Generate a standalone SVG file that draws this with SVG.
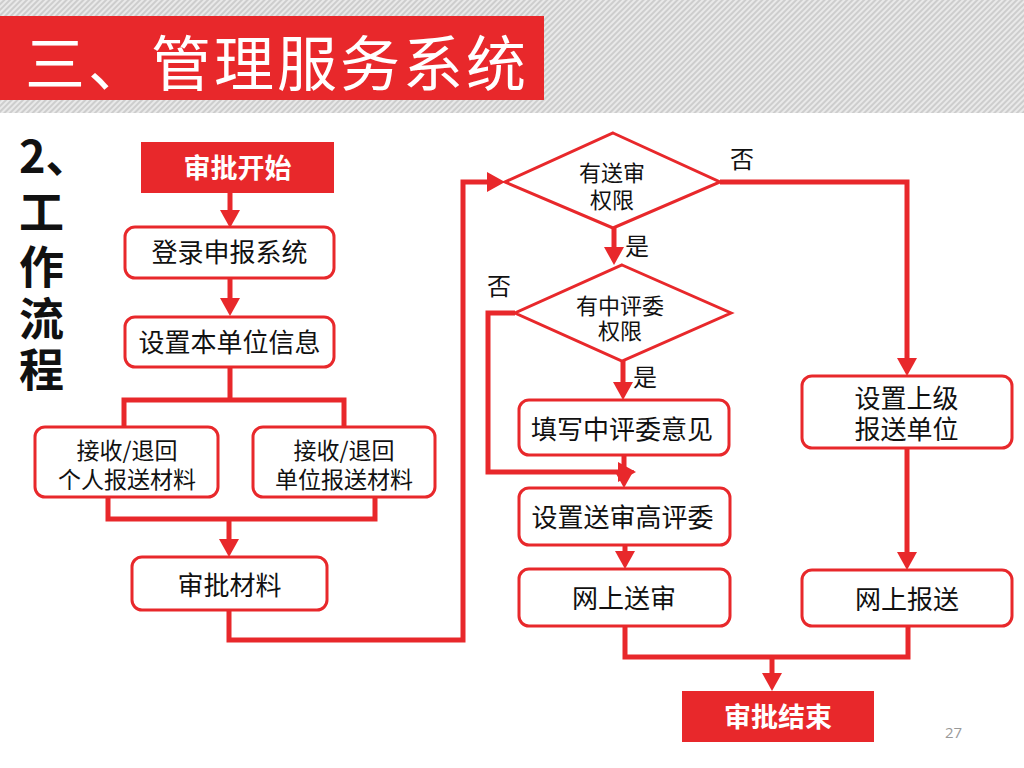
<svg xmlns="http://www.w3.org/2000/svg" width="1024" height="768" viewBox="0 0 1024 768">
<defs>
<pattern id="hatch" width="4" height="4" patternUnits="userSpaceOnUse" patternTransform="rotate(45)">
<rect width="4" height="4" fill="#cdcdcd"/>
<rect width="2" height="4" fill="#e9e9e9"/>
</pattern>
<marker id="arr" markerUnits="userSpaceOnUse" markerWidth="20" markerHeight="22" refX="6" refY="10" orient="auto">
<path d="M0,0 L18,10 L0,20 z" fill="#E8282B"/>
</marker>
<style>
.cn{font-family:"Noto Sans CJK SC","Noto Sans",sans-serif;}
.box{fill:#fff;stroke:#E8282B;stroke-width:3;}
.dia{fill:#fff;stroke:#E8282B;stroke-width:3;stroke-linejoin:miter;}
.term{fill:#E8282B;}
.lbl{font-family:"Noto Sans CJK SC","Noto Sans",sans-serif;font-size:26px;fill:#111;text-anchor:middle;}
.lbl2{font-family:"Noto Sans CJK SC","Noto Sans",sans-serif;font-size:23px;fill:#111;text-anchor:middle;}
.lbld{font-family:"Noto Sans CJK SC","Noto Sans",sans-serif;font-size:22px;fill:#111;text-anchor:middle;}
.tlbl{font-family:"Noto Sans CJK SC","Noto Sans",sans-serif;font-size:27px;font-weight:bold;fill:#fff;text-anchor:middle;}
.yn{font-family:"Noto Sans CJK SC","Noto Sans",sans-serif;font-size:24px;fill:#111;}
.side{font-family:"Noto Sans CJK SC","Noto Sans",sans-serif;font-size:45px;font-weight:bold;fill:#111;}
.ln{fill:none;stroke:#E8282B;stroke-width:5;stroke-linecap:square;stroke-linejoin:miter;}
.la{fill:none;stroke:#E8282B;stroke-width:5;stroke-linecap:butt;stroke-linejoin:miter;marker-end:url(#arr);}
</style>
</defs>
<rect width="1024" height="768" fill="#fff"/>
<g id="header">
<rect x="0" y="0" width="1024" height="113" fill="url(#hatch)"/>
<rect x="0" y="16" width="544" height="84" fill="#E8282B"/>
<text class="cn" x="25" y="86" font-size="60" letter-spacing="3" fill="#fff">三、管理服务系统</text>
</g>
<g id="side-title">
<text class="side"><tspan x="19" y="173">2、</tspan><tspan x="19" y="229">工</tspan><tspan x="19" y="284">作</tspan><tspan x="19" y="336">流</tspan><tspan x="19" y="387">程</tspan></text>
</g>
<g id="connectors">
<path class="la" d="M230,193 V216"/>
<path class="la" d="M230,278 V304"/>
<path class="ln" d="M230,367 V400 M124,427 V400 H344 V427"/>
<path class="ln" d="M108,497 V519 H375 V497"/>
<path class="la" d="M229,519 V545"/>
<path class="la" d="M229,610 V640 H463 V182 H493"/>
<path class="la" d="M614,228 V253"/>
<path class="la" d="M623,361 V388"/>
<path class="la" d="M515,313 H488 V472 H624"/>
<path class="la" d="M624,455 V476"/>
<path class="la" d="M625,545 V557"/>
<path class="la" d="M720,182 H907 V364"/>
<path class="la" d="M907,448 V558"/>
<path class="ln" d="M625,626 V657 H908 V626"/>
<path class="la" d="M772,657 V679"/>
</g>
<g id="start">
<rect class="term" x="141" y="142" width="193" height="51"/>
<text class="tlbl" x="237.5" y="178">审批开始</text>
</g>
<g id="login">
<rect class="box" x="125" y="227" width="209" height="51" rx="10"/>
<text class="lbl" x="229.5" y="262">登录申报系统</text>
</g>
<g id="setunit">
<rect class="box" x="125" y="317" width="209" height="50" rx="10"/>
<text class="lbl" x="229.5" y="352">设置本单位信息</text>
</g>
<g id="personal">
<rect class="box" x="35" y="427" width="183" height="70" rx="10"/>
<text class="lbl2"><tspan x="127" y="459">接收/退回</tspan><tspan x="127" y="488">个人报送材料</tspan></text>
</g>
<g id="unit">
<rect class="box" x="253" y="427" width="182" height="70" rx="10"/>
<text class="lbl2"><tspan x="344" y="459">接收/退回</tspan><tspan x="344" y="488">单位报送材料</tspan></text>
</g>
<g id="review">
<rect class="box" x="132" y="557" width="195" height="53" rx="10"/>
<text class="lbl" x="229.5" y="595">审批材料</text>
</g>
<g id="dec1">
<polygon class="dia" points="613,133 720,182 613,228 505,182"/>
<text class="lbld"><tspan x="612" y="181">有送审</tspan><tspan x="612" y="208">权限</tspan></text>
</g>
<g id="dec2">
<polygon class="dia" points="622,265 731,313 622,361 515,313"/>
<text class="lbld"><tspan x="620" y="314">有中评委</tspan><tspan x="620" y="339">权限</tspan></text>
</g>
<g id="fill">
<rect class="box" x="519" y="400" width="210" height="55" rx="10"/>
<text class="lbl" x="622" y="439">填写中评委意见</text>
</g>
<g id="sethigh">
<rect class="box" x="519" y="488" width="211" height="57" rx="10"/>
<text class="lbl" x="622.5" y="527">设置送审高评委</text>
</g>
<g id="submit">
<rect class="box" x="519" y="569" width="211" height="57" rx="10"/>
<text class="lbl" x="624" y="608">网上送审</text>
</g>
<g id="setupper">
<rect class="box" x="802" y="376" width="210" height="72" rx="10"/>
<text class="lbl"><tspan x="906.5" y="408">设置上级</tspan><tspan x="906.5" y="439">报送单位</tspan></text>
</g>
<g id="report">
<rect class="box" x="802" y="570" width="210" height="56" rx="10"/>
<text class="lbl" x="907" y="609">网上报送</text>
</g>
<g id="end">
<rect class="term" x="682" y="691" width="192" height="51"/>
<text class="tlbl" x="778" y="727">审批结束</text>
</g>
<g id="labels">
<text class="yn" x="730" y="168">否</text>
<text class="yn" x="625" y="255">是</text>
<text class="yn" x="487" y="295">否</text>
<text class="yn" x="633" y="386">是</text>
</g>
<text x="945" y="738" font-family="'Open Sans','Noto Sans',sans-serif" font-size="15" fill="#999">27</text>
</svg>
